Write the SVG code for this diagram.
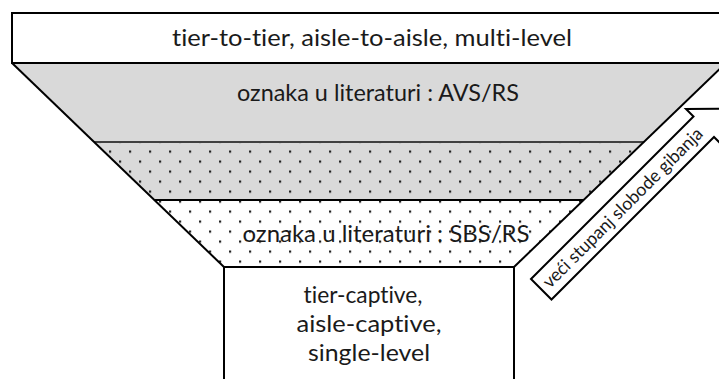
<svg xmlns="http://www.w3.org/2000/svg" width="719" height="379" viewBox="0 0 719 379">
  <style>
    .lbl { font-family: Lato, "Open Sans", "Liberation Sans", sans-serif; font-size: 23px; fill: #1a1a1a; text-anchor: middle; font-variant-ligatures: none; }
    .arr { font-family: Lato, "Open Sans", "Liberation Sans", sans-serif; font-size: 18px; fill: #1a1a1a; text-anchor: middle; font-variant-ligatures: none; }
    .edge { fill: none; stroke: #000; stroke-width: 2; }
  </style>
  <defs>
    <pattern id="dots" patternUnits="userSpaceOnUse" x="-5" y="136.5" width="20" height="20">
      <rect x="4" y="4" width="2.2" height="2.2" fill="#222"/>
      <rect x="14" y="14" width="2.2" height="2.2" fill="#222"/>
    </pattern>
  </defs>
  <rect width="719" height="379" fill="#fff"/>

  <g id="funnel">
    <polygon points="12,63 726,63 644.1,142 94.1,142" fill="#d9d9d9"/>
    <polygon points="94.1,142 644.1,142 583.9,200 154.3,200" fill="#d9d9d9"/>
    <polygon points="94.1,142 644.1,142 583.9,200 154.3,200" fill="url(#dots)"/>
    <polygon points="154.3,200 583.9,200 514,267 224,267" fill="#fff"/>
    <polygon points="154.3,200 583.9,200 514,267 224,267" fill="url(#dots)"/>
    <line x1="94.1" y1="142" x2="644.1" y2="142" stroke="#404040" stroke-width="2"/>
    <line x1="154.3" y1="200" x2="583.9" y2="200" stroke="#000" stroke-width="2"/>
    <polyline class="edge" points="12,63 224,267"/>
    <polyline class="edge" points="726,63 514,267"/>
    <text class="lbl" x="378" y="101" textLength="282" lengthAdjust="spacingAndGlyphs">oznaka u literaturi : AVS/RS</text>
    <text class="lbl" x="386" y="242" textLength="287" lengthAdjust="spacingAndGlyphs">oznaka u literaturi : SBS/RS</text>
  </g>

  <g id="top-box">
    <rect class="edge" x="12" y="13" width="730" height="50" fill="#fff"/>
    <text class="lbl" x="372" y="46" textLength="400" lengthAdjust="spacingAndGlyphs">tier-to-tier, aisle-to-aisle, multi-level</text>
  </g>

  <g id="bottom-box">
    <rect class="edge" x="224" y="267" width="290" height="130" fill="#fff"/>
    <text class="lbl" x="363" y="303" textLength="119" lengthAdjust="spacingAndGlyphs">tier-captive,</text>
    <text class="lbl" x="369" y="332" textLength="145" lengthAdjust="spacingAndGlyphs">aisle-captive,</text>
    <text class="lbl" x="369" y="361" textLength="122" lengthAdjust="spacingAndGlyphs">single-level</text>
  </g>

  <g id="arrow">
    <polygon points="531,279 693.5,116.5 686,109 721.75,108.75 721.5,144.5 714,137 551.5,299.5" fill="#fff" stroke="#000" stroke-width="2" stroke-linejoin="miter"/>
    <text class="arr" transform="translate(627,212) rotate(-45)" textLength="218" lengthAdjust="spacingAndGlyphs">veći stupanj slobode gibanja</text>
  </g>
</svg>
